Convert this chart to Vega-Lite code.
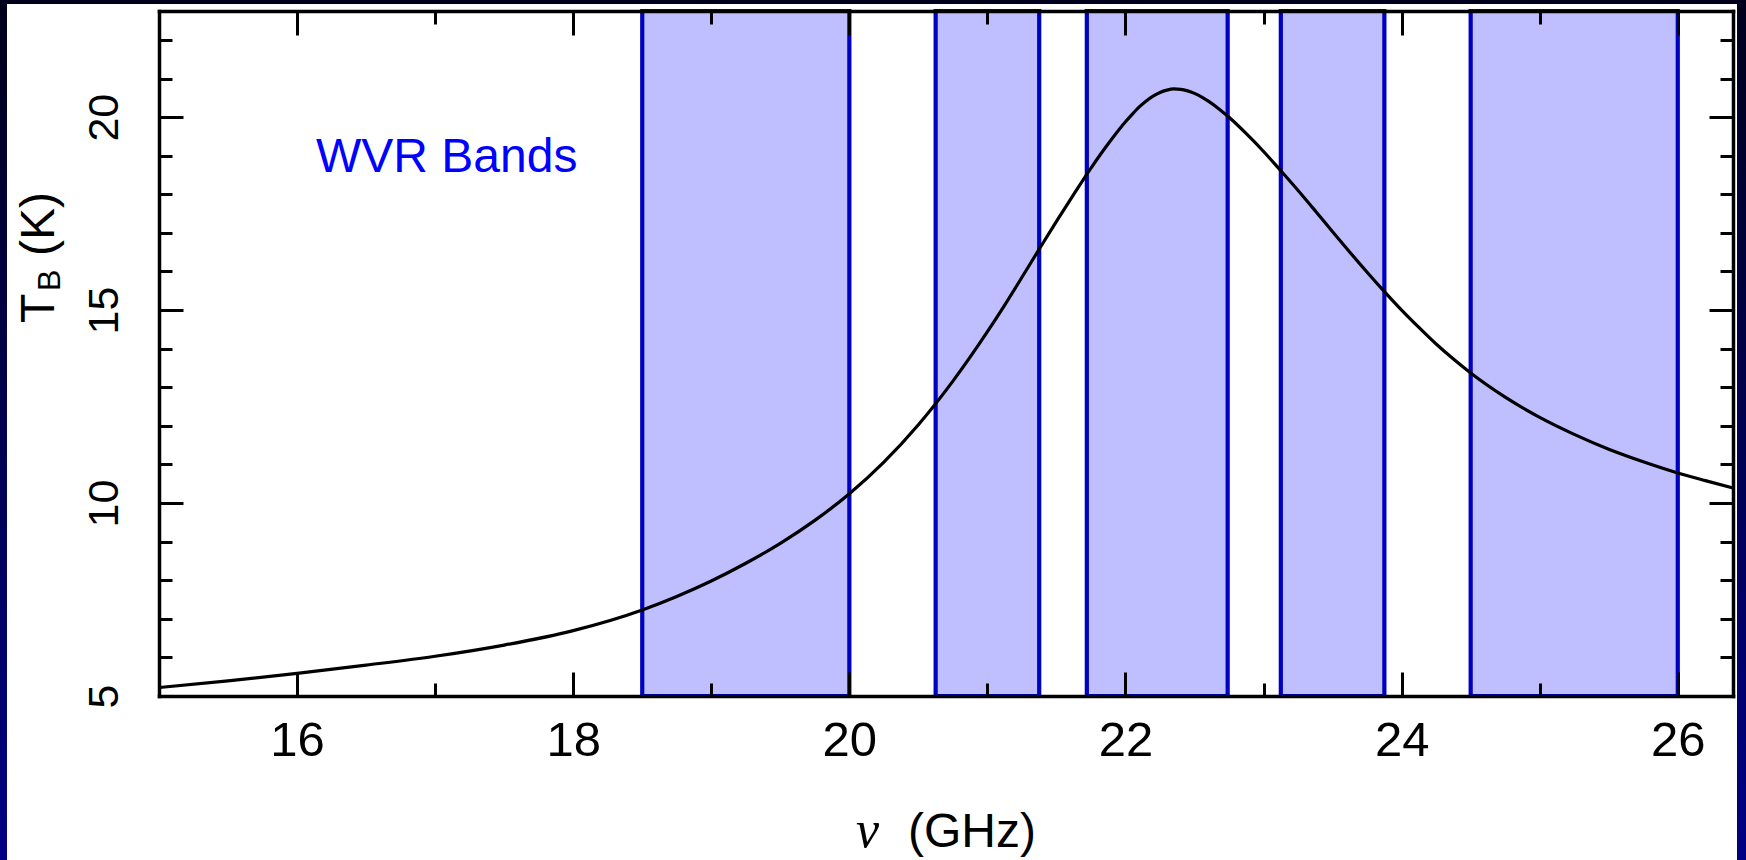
{
  "$schema": "https://vega.github.io/schema/vega-lite/v6.json",
  "width": 1574,
  "height": 685,
  "autosize": {"type": "none"},
  "padding": {"left": 159, "top": 11, "right": 13, "bottom": 164},
  "background": "#000050",
  "config": {
    "view": {"stroke": null},
    "axis": {
      "grid": false,
      "zindex": 1,
      "tickColor": "black",
      "tickWidth": 3,
      "domainColor": "black",
      "domainWidth": 3.5,
      "domainCap": "square",
      "labelColor": "black",
      "labelFont": "Liberation Sans",
      "labelFlush": false,
      "labelOverlap": false
    }
  },
  "resolve": {"axis": {"x": "independent", "y": "independent"}},
  "layer": [
    {
      "data": {"values": [{}]},
      "mark": {
        "type": "rect",
        "fill": {
          "gradient": "linear", "x1": 0, "y1": 0, "x2": 0, "y2": 1,
          "stops": [{"offset": 0, "color": "#00001c"}, {"offset": 1, "color": "#000085"}]
        }
      },
      "encoding": {
        "x": {"datum": 13.8, "type": "quantitative", "scale": {"domain": [15, 26.4], "nice": false, "zero": false},
          "axis": {"orient": "bottom", "zindex": 1, "values": [16, 18, 20, 22, 24, 26], "ticks": false, "domain": true, "labels": true,
            "labelFontSize": 49, "labelPadding": 59, "labelBaseline": "alphabetic", "labelAlign": "center", "title": null}},
        "x2": {"datum": 26.5},
        "y": {"datum": 0.7, "type": "quantitative", "scale": {"domain": [5, 22.75], "nice": false, "zero": false},
          "axis": {"orient": "left", "zindex": 1, "values": [5, 10, 15, 20], "ticks": false, "domain": true, "labels": true,
            "labelFontSize": 43, "labelAngle": 270, "labelAlign": "center", "labelBaseline": "alphabetic", "labelPadding": 42, "title": null}},
        "y2": {"datum": 23.1}
      }
    },
    {
      "data": {"values": [{}]},
      "mark": {"type": "rect", "fill": "white"},
      "encoding": {
        "x": {"datum": 13.899, "type": "quantitative", "scale": {"domain": [15, 26.4], "nice": false, "zero": false},
          "axis": {"orient": "bottom", "zindex": 1, "values": [16, 18, 20, 22, 24, 26], "ticks": true, "tickSize": -24, "domain": false, "labels": false, "title": null}},
        "x2": {"datum": 26.429},
        "y": {"datum": 0.7, "type": "quantitative", "scale": {"domain": [5, 22.75], "nice": false, "zero": false},
          "axis": {"orient": "left", "zindex": 1, "values": [5, 10, 15, 20], "ticks": true, "tickSize": -24, "domain": false, "labels": false, "title": null}},
        "y2": {"datum": 22.93}
      }
    },
    {
      "data": {"values": [
        {"band": 1, "lo": 18.5, "hi": 20.0},
        {"band": 2, "lo": 20.625, "hi": 21.375},
        {"band": 3, "lo": 21.72, "hi": 22.74},
        {"band": 4, "lo": 23.125, "hi": 23.875},
        {"band": 5, "lo": 24.5, "hi": 26.0}
      ]},
      "mark": {"type": "rect", "fill": "#bfbfff", "stroke": "#0000c0", "strokeWidth": 4.2},
      "encoding": {
        "x": {"field": "lo", "type": "quantitative", "scale": {"domain": [15, 26.4], "nice": false, "zero": false},
          "axis": {"orient": "bottom", "zindex": 1, "values": [17, 19, 21, 23, 25], "ticks": true, "tickSize": -13, "domain": false, "labels": false, "title": null}},
        "x2": {"field": "hi"},
        "y": {"datum": 5, "type": "quantitative", "scale": {"domain": [5, 22.75], "nice": false, "zero": false},
          "axis": {"orient": "left", "zindex": 1, "values": [6, 7, 8, 9, 11, 12, 13, 14, 16, 17, 18, 19, 21, 22], "ticks": true, "tickSize": -13, "domain": false, "labels": false, "title": null}},
        "y2": {"datum": 22.75}
      }
    },
    {
      "data": {"values": [
        {"nu": 15.0, "tb": 5.22}, {"nu": 15.5, "tb": 5.39}, {"nu": 16.0, "tb": 5.585}, {"nu": 16.5, "tb": 5.8},
        {"nu": 17.0, "tb": 6.03}, {"nu": 17.5, "tb": 6.32}, {"nu": 18.0, "tb": 6.695}, {"nu": 18.5, "tb": 7.23},
        {"nu": 18.75, "tb": 7.58}, {"nu": 19.0, "tb": 7.98}, {"nu": 19.25, "tb": 8.44}, {"nu": 19.5, "tb": 8.955},
        {"nu": 19.75, "tb": 9.55}, {"nu": 20.0, "tb": 10.24}, {"nu": 20.25, "tb": 11.06}, {"nu": 20.5, "tb": 12.03},
        {"nu": 20.75, "tb": 13.16}, {"nu": 21.0, "tb": 14.44}, {"nu": 21.125, "tb": 15.13}, {"nu": 21.25, "tb": 15.85},
        {"nu": 21.375, "tb": 16.58}, {"nu": 21.5, "tb": 17.3}, {"nu": 21.625, "tb": 18.0}, {"nu": 21.75, "tb": 18.68},
        {"nu": 21.875, "tb": 19.31}, {"nu": 22.0, "tb": 19.88}, {"nu": 22.05, "tb": 20.08}, {"nu": 22.1, "tb": 20.265},
        {"nu": 22.15, "tb": 20.42}, {"nu": 22.2, "tb": 20.545}, {"nu": 22.25, "tb": 20.64}, {"nu": 22.3, "tb": 20.7},
        {"nu": 22.35, "tb": 20.73}, {"nu": 22.4, "tb": 20.72}, {"nu": 22.45, "tb": 20.68}, {"nu": 22.5, "tb": 20.615},
        {"nu": 22.55, "tb": 20.525}, {"nu": 22.6, "tb": 20.415}, {"nu": 22.675, "tb": 20.22}, {"nu": 22.75, "tb": 19.995},
        {"nu": 22.875, "tb": 19.57}, {"nu": 23.0, "tb": 19.11}, {"nu": 23.125, "tb": 18.61}, {"nu": 23.25, "tb": 18.1},
        {"nu": 23.375, "tb": 17.57}, {"nu": 23.5, "tb": 17.03}, {"nu": 23.625, "tb": 16.5}, {"nu": 23.75, "tb": 15.98},
        {"nu": 23.875, "tb": 15.48}, {"nu": 24.0, "tb": 15.0}, {"nu": 24.125, "tb": 14.55}, {"nu": 24.25, "tb": 14.12},
        {"nu": 24.375, "tb": 13.73}, {"nu": 24.5, "tb": 13.37}, {"nu": 24.75, "tb": 12.745}, {"nu": 25.0, "tb": 12.22},
        {"nu": 25.25, "tb": 11.78}, {"nu": 25.5, "tb": 11.395}, {"nu": 25.75, "tb": 11.07}, {"nu": 26.0, "tb": 10.78},
        {"nu": 26.2, "tb": 10.58}, {"nu": 26.4, "tb": 10.39}
      ]},
      "mark": {"type": "line", "color": "black", "strokeWidth": 3.2, "interpolate": "monotone", "clip": true},
      "encoding": {
        "x": {"field": "nu", "type": "quantitative", "scale": {"domain": [15, 26.4], "nice": false, "zero": false},
          "axis": {"orient": "top", "zindex": 1, "values": [16, 18, 20, 22, 24, 26], "ticks": true, "tickSize": -24, "domain": true, "labels": false, "title": null}},
        "y": {"field": "tb", "type": "quantitative", "scale": {"domain": [5, 22.75], "nice": false, "zero": false},
          "axis": {"orient": "right", "zindex": 1, "values": [5, 10, 15, 20], "ticks": true, "tickSize": -24, "domain": true, "labels": false, "title": null}}
      }
    },
    {
      "data": {"values": [{}]},
      "mark": {"type": "text", "font": "Liberation Sans", "fontSize": 48, "color": "#0000ff", "align": "left", "baseline": "alphabetic"},
      "encoding": {
        "x": {"datum": 16.137, "type": "quantitative", "scale": {"domain": [15, 26.4], "nice": false, "zero": false},
          "axis": {"orient": "top", "zindex": 1, "values": [17, 19, 21, 23, 25], "ticks": true, "tickSize": -13, "domain": false, "labels": false, "title": null}},
        "y": {"datum": 18.58, "type": "quantitative", "scale": {"domain": [5, 22.75], "nice": false, "zero": false},
          "axis": {"orient": "right", "zindex": 1, "values": [6, 7, 8, 9, 11, 12, 13, 14, 16, 17, 18, 19, 21, 22], "ticks": true, "tickSize": -13, "domain": false, "labels": false, "title": null}},
        "text": {"value": "WVR Bands"}
      }
    },
    {
      "data": {"values": [{}]},
      "mark": {"type": "text", "font": "Liberation Sans", "fontSize": 48, "color": "black", "angle": 270, "align": "left", "baseline": "alphabetic"},
      "encoding": {
        "x": {"datum": 14.2395, "type": "quantitative", "scale": {"domain": [15, 26.4], "nice": false, "zero": false}, "axis": null},
        "y": {"datum": 14.666, "type": "quantitative", "scale": {"domain": [5, 22.75], "nice": false, "zero": false}, "axis": null},
        "text": {"value": "T"}
      }
    },
    {
      "data": {"values": [{}]},
      "mark": {"type": "text", "font": "Liberation Sans", "fontSize": 32, "color": "black", "angle": 270, "align": "left", "baseline": "alphabetic"},
      "encoding": {
        "x": {"datum": 14.283, "type": "quantitative", "scale": {"domain": [15, 26.4], "nice": false, "zero": false}, "axis": null},
        "y": {"datum": 15.495, "type": "quantitative", "scale": {"domain": [5, 22.75], "nice": false, "zero": false}, "axis": null},
        "text": {"value": "B"}
      }
    },
    {
      "data": {"values": [{}]},
      "mark": {"type": "text", "font": "Liberation Sans", "fontSize": 48, "color": "black", "angle": 270, "align": "left", "baseline": "alphabetic"},
      "encoding": {
        "x": {"datum": 14.2395, "type": "quantitative", "scale": {"domain": [15, 26.4], "nice": false, "zero": false}, "axis": null},
        "y": {"datum": 16.4, "type": "quantitative", "scale": {"domain": [5, 22.75], "nice": false, "zero": false}, "axis": null},
        "text": {"value": "(K)"}
      }
    },
    {
      "data": {"values": [{}]},
      "mark": {"type": "text", "font": "Liberation Serif", "fontStyle": "italic", "fontSize": 52, "color": "black", "align": "left", "baseline": "alphabetic"},
      "encoding": {
        "x": {"datum": 20.048, "type": "quantitative", "scale": {"domain": [15, 26.4], "nice": false, "zero": false}, "axis": null},
        "y": {"datum": 1.087, "type": "quantitative", "scale": {"domain": [5, 22.75], "nice": false, "zero": false}, "axis": null},
        "text": {"value": "ν"}
      }
    },
    {
      "data": {"values": [{}]},
      "mark": {"type": "text", "font": "Liberation Sans", "fontSize": 48, "color": "black", "align": "left", "baseline": "alphabetic"},
      "encoding": {
        "x": {"datum": 20.425, "type": "quantitative", "scale": {"domain": [15, 26.4], "nice": false, "zero": false}, "axis": null},
        "y": {"datum": 1.087, "type": "quantitative", "scale": {"domain": [5, 22.75], "nice": false, "zero": false}, "axis": null},
        "text": {"value": "(GHz)"}
      }
    }
  ]
}
